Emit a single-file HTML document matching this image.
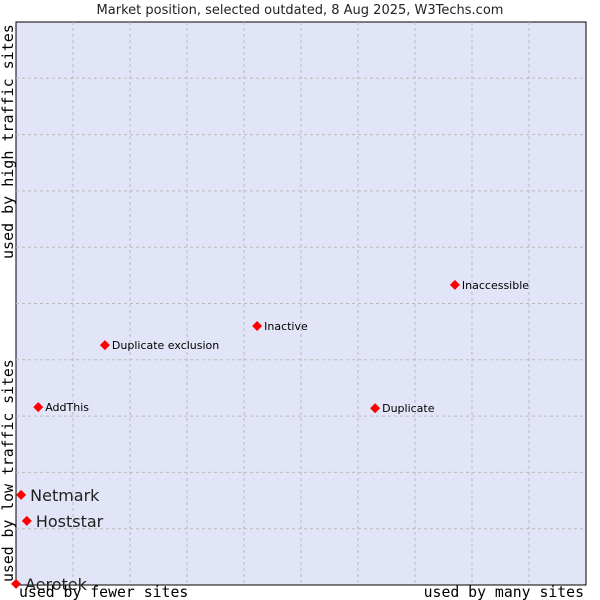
<!DOCTYPE html>
<html><head><meta charset="utf-8"><style>body{margin:0;background:#fff}svg{display:block}</style></head>
<body>
<svg id="chart" width="600" height="600" viewBox="0 0 600 600" xmlns="http://www.w3.org/2000/svg">
<text x="300" y="14" text-anchor="middle" font-family="DejaVu Sans, sans-serif" font-size="13" fill="#222">Market position, selected outdated, 8 Aug 2025, W3Techs.com</text>
<rect x="16" y="22" width="570" height="563" fill="#e2e4f7" stroke="#000" stroke-width="1"/>
<g id="grid"></g>
<g id="points"></g>
<text x="19" y="597" font-family="DejaVu Sans Mono, monospace" font-size="14.8" fill="#000">used by fewer sites</text>
<text x="584" y="597" text-anchor="end" font-family="DejaVu Sans Mono, monospace" font-size="14.8" fill="#000">used by many sites</text>
<text transform="translate(13,582) rotate(-90)" font-family="DejaVu Sans Mono, monospace" font-size="14.8" fill="#000">used by low traffic sites</text>
<text transform="translate(13,259) rotate(-90)" font-family="DejaVu Sans Mono, monospace" font-size="15" fill="#000">used by high traffic sites</text>
</svg>
<script>
const names = ["Aerotek","Netmark","Hoststar","AddThis","Duplicate exclusion","Inactive","Duplicate","Inaccessible"];
const xValues = [0, 0.9, 1.9, 3.9, 15.6, 42.3, 63, 77];
const yValues = [0.2, 16, 11.4, 31.6, 42.6, 46.0, 31.4, 53.3];
const bigLabel = [true, true, true, false, false, false, false, false];
const NS = "http://www.w3.org/2000/svg";
const X0 = 16, W = 570, Y0 = 585, H = 563;
function sx(v){ return X0 + v / 100 * W; }
function sy(v){ return Y0 - v / 100 * H; }
const grid = document.getElementById('grid');
for (let i = 1; i < 10; i++) {
  const lv = document.createElementNS(NS, 'line');
  
  
  lv.setAttribute('x1', sx(i*10)); lv.setAttribute('x2', sx(i*10));
  lv.setAttribute('y1', 22); lv.setAttribute('y2', 585);
  lv.setAttribute('stroke', '#bbb'); lv.setAttribute('stroke-dasharray', '3,3');
  grid.appendChild(lv);
  const lh = document.createElementNS(NS, 'line');
  
  
  lh.setAttribute('x1', 16); lh.setAttribute('x2', 586);
  lh.setAttribute('y1', sy(i*10)); lh.setAttribute('y2', sy(i*10));
  lh.setAttribute('stroke', '#bbb'); lh.setAttribute('stroke-dasharray', '3,3');
  grid.appendChild(lh);
}
const pts = document.getElementById('points');
names.forEach((n, i) => {
  const x = sx(xValues[i]), y = sy(yValues[i]);
  const d = document.createElementNS(NS, 'path');
  
  
  d.setAttribute('d', `M${x},${y-5} L${x+5},${y} L${x},${y+5} L${x-5},${y} Z`);
  d.setAttribute('fill', '#f00');
  pts.appendChild(d);
  const t = document.createElementNS(NS, 'text');
  
  
  const big = bigLabel[i];
  t.setAttribute('x', x + (big ? 9 : 7));
  t.setAttribute('y', y + (big ? 6 : 4));
  t.setAttribute('font-family', 'DejaVu Sans, sans-serif');
  t.setAttribute('font-size', big ? 16 : 11);
  t.setAttribute('fill', big ? '#222' : '#000');
  t.textContent = n;
  pts.appendChild(t);
});
</script>
</body></html>
